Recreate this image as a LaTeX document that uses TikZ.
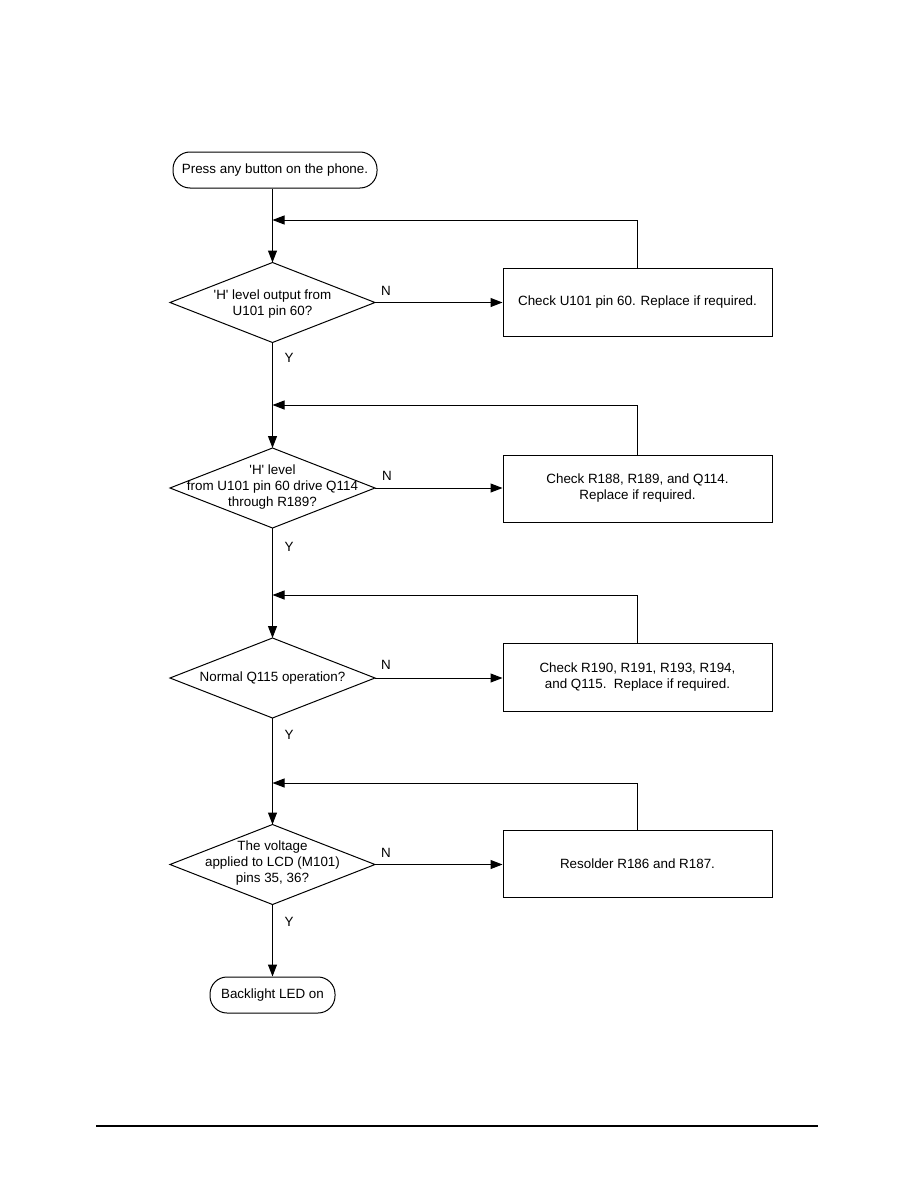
\documentclass[tikz,border=0pt]{standalone}
\usepackage{fontspec}
\setmainfont{Liberation Sans}
\usetikzlibrary{shapes.geometric,arrows.meta}
\begin{document}
\begin{tikzpicture}[x=1pt,y=-1pt,
  every node/.style={font=\fontsize{13.4}{16}\selectfont},
  term/.style={draw, rounded corners=17pt, minimum height=36pt, inner sep=0pt, line width=1pt},
  dec/.style={draw, diamond, minimum width=205pt, minimum height=80pt, inner sep=0pt, outer sep=0pt, line width=1pt},
  act/.style={draw, rectangle, minimum width=269pt, minimum height=68pt, inner sep=0pt, line width=1pt, align=center},
  txt/.style={align=center, inner sep=0pt},
  arr/.style={-{Triangle[length=12pt,width=9pt]}, line width=1pt},
  lbl/.style={inner sep=0pt}]
\useasboundingbox (0,0) rectangle (918,1188);

% terminals
\node[term, minimum width=204pt] (start) at (275,170) {Press any button on the phone.};
\node[term, minimum width=125pt] (stop) at (272.5,995) {Backlight LED on};

% decisions
\node[dec] (d1) at (272.5,302.5) {};
\node[txt] (t1) at ([yshift=-2pt]d1.center) {\textquotesingle H\textquotesingle{} level output from\\U101 pin 60?};
\node[dec] (d2) at (272.5,488) {};
\node[txt] (t2) at ([yshift=1pt]d2.center) {\textquotesingle H\textquotesingle{} level\\from U101 pin 60 drive Q114\\through R189?};
\node[dec] (d3) at (272.5,678) {};
\node[txt] (t3) at (d3.center) {Normal Q115 operation?};
\node[dec] (d4) at (272.5,864.5) {};
\node[txt] (t4) at ([yshift=1pt]d4.center) {The voltage\\applied to LCD (M101)\\pins 35, 36?};

% actions
\node[act] (b1) at (637.5,302) {Check U101 pin 60. Replace if required.};
\node[act, minimum height=67pt] (b2) at (637.5,488.5) {Check R188, R189, and Q114.\\Replace if required.};
\node[act] (b3) at (637.5,677) {Check R190, R191, R193, R194,\\and Q115.\ \ Replace if required.};
\node[act, minimum height=67pt] (b4) at (637.5,863.5) {Resolder R186 and R187.};

% junctions of the return lines
\coordinate (j1) at (272.5,220);
\coordinate (j2) at (272.5,405);
\coordinate (j3) at (272.5,595);
\coordinate (j4) at (272.5,783);

% main flow
\draw[arr] (start.south -| d1.north) -- (d1.north);
\draw[arr] (d1.south) -- (d2.north);
\draw[arr] (d2.south) -- (d3.north);
\draw[arr] (d3.south) -- (d4.north);
\draw[arr] (d4.south) -- (stop.north);

% N branches
\draw[arr] (d1.east) -- (d1.east -| b1.west);
\draw[arr] (d2.east) -- (d2.east -| b2.west);
\draw[arr] (d3.east) -- (d3.east -| b3.west);
\draw[arr] (d4.east) -- (d4.east -| b4.west);

% return loops
\draw[arr] (b1.north) |- (j1);
\draw[arr] (b2.north) |- (j2);
\draw[arr] (b3.north) |- (j3);
\draw[arr] (b4.north) |- (j4);

% labels
\node[lbl] (n1) at (386,291) {N};
\node[lbl] (n2) at (387,476) {N};
\node[lbl] (n3) at (386,665) {N};
\node[lbl] (n4) at (386,853) {N};
\node[lbl] (y1) at (289,358) {Y};
\node[lbl] (y2) at (289,547) {Y};
\node[lbl] (y3) at (289,735) {Y};
\node[lbl] (y4) at (289,922) {Y};

% footer rule
\draw[line width=2pt] (96,1126) -- (818,1126);
\end{tikzpicture}
\end{document}
